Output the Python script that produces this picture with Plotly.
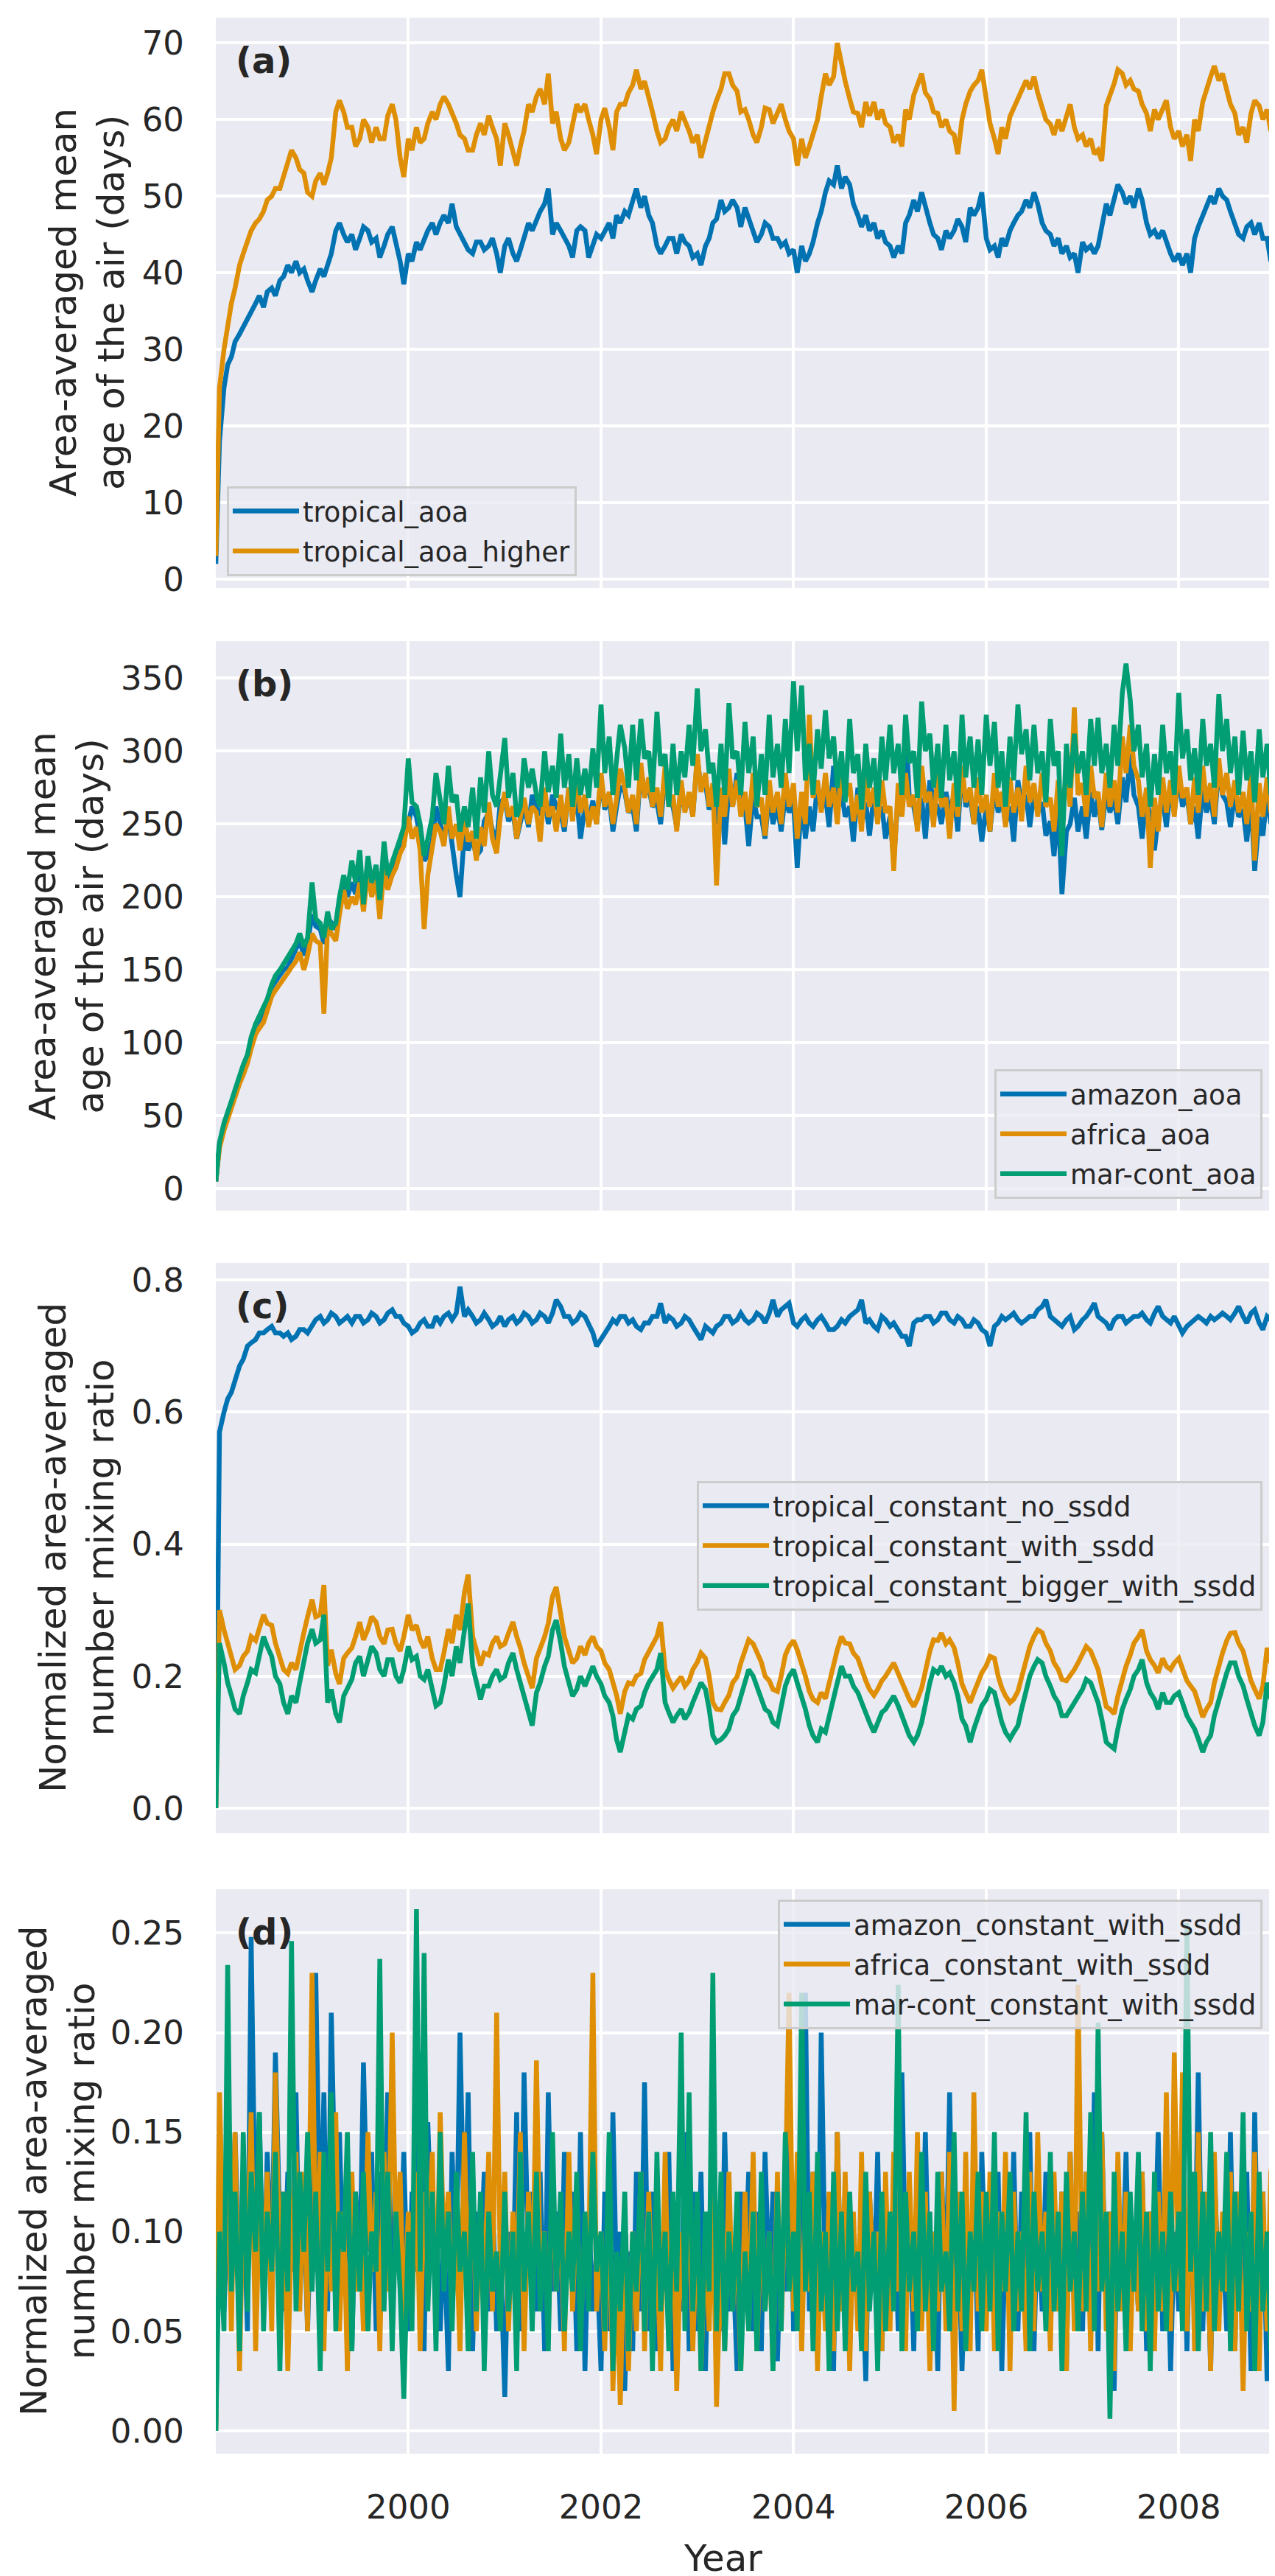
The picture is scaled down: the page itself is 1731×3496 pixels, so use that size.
import pandas as pd
import plotly.graph_objects as go
from plotly.subplots import make_subplots

# model output sampled on the 1st and 15th of each month, plus the last day of the run
dates = list(pd.date_range("1998-01-01", "2008-12-15", freq="SMS")) + [pd.Timestamp("2008-12-31")]

year_ticks = ["2000-01-01", "2002-01-01", "2004-01-01", "2006-01-01", "2008-01-01"]
year_labels = ["2000", "2002", "2004", "2006", "2008"]

# (a) area-averaged mean age of the air, days
tropical_aoa = [
    2, 18, 25, 28, 29, 31, 32, 33, 34, 35, 36, 37, 35.5, 37.5, 38, 37, 39, 39.5, 41, 40, 41.5, 40, 40.5, 39,
    37.5, 39, 40.5, 39.5, 41, 42.5, 45.5, 46.5, 45, 44, 45, 43, 44.5, 46, 45.5, 44, 44.5, 42, 43.5, 45, 46, 44, 41.5, 38.5,
    42.5, 41.5, 44, 43, 44.5, 45.5, 46.5, 45, 46.5, 47.5, 46.5, 49, 46, 45, 44, 43, 42.5, 44, 44, 43, 43.5, 44.5, 42.5, 40,
    43.5, 44.5, 42.5, 41.5, 43, 44.5, 46.5, 45.5, 47, 48, 49, 51, 45, 46.5, 45.5, 44.5, 43.5, 42, 45.5, 46, 45.5, 42, 43.5, 45,
    44.5, 45.5, 46.5, 44.5, 47.5, 46.5, 48, 47.5, 49.5, 51, 48.5, 50, 47.5, 46.5, 43.5, 42.5, 43.5, 44.5, 44.5, 42.5, 45, 44, 43.5, 42,
    42.5, 41, 43.5, 44.5, 46.5, 47, 49.5, 48, 48.5, 49.5, 48.5, 46, 48.5, 47, 45.5, 44, 45, 46.5, 46, 44.5, 44.5, 43.5, 44, 42.5,
    43, 40, 43.5, 41.5, 42.5, 44, 46.5, 48, 50.5, 52, 51.5, 54, 51, 52.5, 51.5, 49, 47.5, 46, 47.5, 45.5, 46.5, 44.5, 45.5, 44,
    43.5, 42, 43.5, 42.5, 46.5, 47.5, 49.5, 48, 50.5, 48.5, 46.5, 45, 44.5, 43, 45.5, 44.5, 45.5, 47, 46, 44, 48.5, 47.5, 48.5, 50.5,
    44.5, 43, 43.5, 42, 44.5, 43.5, 45.5, 46.5, 47.5, 48, 49.5, 48.5, 50.5, 49, 46.5, 45.5, 45, 43.5, 44.5, 42.5, 43.5, 42, 42.5, 40,
    44, 43, 43.5, 42.5, 43.5, 46, 49, 47.5, 49.5, 51.5, 50.5, 49, 50, 48.5, 51, 49.5, 46.5, 45, 45.5, 44.5, 45.5, 44, 42.5, 41.5,
    42.5, 41, 42.5, 40, 44.5, 46, 47.5, 48.5, 50, 49, 51, 50, 49.5, 48, 46.5, 45, 44.5, 46, 46.5, 45, 46.5, 44.5, 44.5, 41.5, 43.5,
]
tropical_aoa_higher = [
    3, 25, 30, 33, 36, 38, 41, 42.5, 44, 45.5, 46.5, 47, 48, 49.5, 50, 51, 51, 52.5, 54, 56, 55, 53.5, 53, 50.5,
    50, 52, 53, 51.5, 53, 55, 61, 62.5, 61, 59, 59, 56.5, 57.5, 60, 59, 57, 59, 57.5, 57.5, 60.5, 62, 60, 55, 52.5,
    57.5, 56, 59, 57, 57.5, 59.5, 61, 60, 62, 63, 62, 61, 59.5, 58, 57.5, 56, 56, 58, 59.5, 58, 60.5, 59, 57.5, 54,
    59.5, 58, 56, 54, 56.5, 58.5, 62, 61, 63, 64, 62, 66, 59.5, 61, 57.5, 56, 57, 59.5, 62, 61, 62, 60, 58, 55.5,
    60, 61.5, 59, 56, 61, 62, 62, 63.5, 64.5, 66.5, 64, 65, 63, 61, 58.5, 57, 57.5, 59, 60, 58.5, 61, 60, 58.5, 57,
    58, 55, 57.5, 59, 61, 62.5, 64, 66, 66, 64.5, 63.7, 61, 61.3, 60, 58, 57, 59, 61.5, 61.3, 59.5, 60.8, 62, 60, 58.5,
    57.5, 54, 57.5, 55, 56.5, 58, 60, 63, 66, 64.5, 65.6, 70, 67, 65, 62.7, 61, 60.8, 59, 62.3, 60.5, 62.3, 60, 61.3, 59.5,
    59, 57, 58, 56.5, 61.3, 60, 63.2, 64.5, 66, 63.5, 62.7, 61, 60.8, 59, 60, 58.5, 58, 55.5, 60, 62, 63.7, 64.5, 65.1, 66.5,
    62.3, 59.5, 57.5, 55.5, 59, 57.5, 60.4, 61.5, 62.7, 64, 65.1, 64, 65.6, 63.5, 61.8, 60, 59.4, 58, 60, 58.5, 60.4, 62, 59, 57.5,
    58, 56.5, 57.5, 55.5, 56, 54.6, 61.8, 63, 64.7, 66.5, 66, 64.5, 65.1, 64, 63.7, 62, 60.8, 58.5, 61.3, 60, 61.3, 62.5, 59, 57.5,
    58.5, 56.5, 58, 54.6, 60, 58.5, 62.3, 64, 65.6, 67, 65.1, 66, 63.7, 62, 60.8, 58, 59, 57, 60.8, 62.5, 61.8, 60, 61.3, 58.5, 59.5,
]

# (b) area-averaged mean age of the air, days
amazon_aoa = [
    5, 30, 44, 52, 60, 66, 76, 84, 90, 102, 112, 116, 120, 128, 138, 142, 146, 150, 152, 158, 165, 170, 160, 168,
    188, 180, 178, 168, 186, 182, 178, 195, 212, 200, 210, 202, 218, 198, 225, 205, 215, 190, 224, 210, 222, 228, 238, 242,
    250, 262, 255, 240, 225, 228, 238, 262, 250, 240, 255, 235, 215, 200, 245, 232, 240, 228, 232, 252, 258, 246, 238, 265,
    268, 252, 258, 240, 250, 262, 248, 270, 262, 256, 268, 250, 270, 262, 258, 245, 275, 255, 268, 240, 262, 252, 266, 250,
    282, 260, 268, 245, 262, 276, 272, 258, 262, 245, 288, 272, 275, 262, 265, 250, 282, 270, 262, 248, 272, 260, 268, 256,
    295, 275, 278, 260, 268, 250, 272, 236, 275, 262, 285, 268, 262, 235, 270, 255, 255, 240, 272, 250, 262, 245, 270, 258,
    265, 220, 268, 240, 262, 245, 278, 260, 270, 248, 290, 262, 272, 255, 262, 238, 275, 250, 265, 242, 270, 255, 262, 240,
    255, 225, 270, 260, 322, 268, 262, 248, 268, 240, 280, 265, 262, 250, 272, 258, 270, 245, 290, 262, 268, 250, 262, 238,
    262, 245, 275, 258, 268, 250, 262, 238, 280, 262, 270, 248, 272, 258, 265, 242, 252, 228, 262, 202, 245, 250, 268, 245,
    262, 240, 272, 255, 268, 246, 272, 258, 268, 250, 282, 265, 298, 270, 262, 240, 270, 250, 232, 255, 268, 248, 275, 258,
    282, 262, 270, 250, 262, 240, 275, 258, 268, 250, 290, 270, 265, 248, 272, 255, 260, 238, 268, 218, 255, 242, 270, 250, 285,
]
africa_aoa = [
    5, 28, 40, 48, 56, 64, 72, 78, 86, 96, 106, 110, 114, 122, 132, 136, 140, 143, 148, 152, 156, 162, 150, 160,
    175, 170, 168, 120, 180, 175, 170, 188, 205, 192, 200, 195, 210, 190, 218, 200, 212, 185, 220, 205, 215, 220, 230, 235,
    255, 240, 248, 232, 178, 215, 232, 250, 245, 235, 262, 240, 250, 232, 255, 238, 245, 225, 248, 235, 265, 240, 230, 255,
    272, 255, 262, 240, 255, 268, 250, 262, 258, 238, 275, 255, 262, 245, 270, 248, 275, 252, 285, 258, 270, 248, 262, 250,
    285, 262, 272, 250, 268, 288, 275, 258, 270, 250, 292, 268, 282, 262, 275, 255, 290, 262, 270, 245, 280, 258, 272, 255,
    298, 272, 285, 262, 278, 208, 275, 255, 288, 262, 280, 255, 272, 250, 285, 262, 268, 242, 280, 258, 272, 250, 285, 262,
    278, 240, 272, 250, 325, 268, 280, 258, 285, 262, 275, 250, 290, 268, 278, 252, 270, 245, 285, 262, 275, 250, 280, 258,
    262, 218, 278, 255, 285, 262, 270, 245, 290, 265, 272, 248, 285, 262, 268, 240, 278, 255, 290, 265, 275, 250, 282, 258,
    270, 245, 285, 262, 272, 248, 282, 258, 275, 252, 290, 265, 278, 255, 285, 262, 268, 245, 280, 255, 285, 262, 330, 270,
    278, 255, 290, 268, 272, 248, 285, 262, 280, 258, 310, 285, 318, 290, 280, 255, 275, 220, 268, 245, 282, 258, 280, 255,
    290, 268, 275, 250, 282, 258, 290, 265, 278, 255, 295, 270, 285, 262, 280, 258, 272, 250, 285, 225, 278, 255, 282, 258, 300,
]
mar_cont_aoa = [
    5, 32, 45, 54, 60, 68, 78, 85, 92, 104, 113, 118, 124, 130, 140, 146, 150, 154, 158, 162, 168, 175, 166, 172,
    210, 185, 182, 172, 190, 178, 182, 200, 215, 205, 225, 210, 232, 195, 228, 210, 222, 198, 238, 215, 225, 232, 240, 248,
    295, 265, 262, 250, 228, 240, 255, 285, 268, 250, 290, 265, 270, 245, 262, 248, 275, 240, 282, 258, 300, 270, 262, 285,
    309, 268, 285, 255, 262, 295, 275, 288, 270, 262, 300, 272, 290, 268, 312, 275, 298, 262, 295, 270, 288, 268, 302, 275,
    332, 285, 310, 270, 295, 318, 302, 275, 318, 280, 322, 295, 300, 272, 327, 290, 298, 262, 305, 270, 300, 282, 318, 290,
    343, 300, 315, 285, 292, 262, 305, 270, 333, 295, 300, 270, 320, 285, 310, 262, 298, 270, 325, 282, 305, 275, 322, 285,
    348, 300, 345, 280, 305, 270, 315, 288, 328, 295, 310, 275, 300, 265, 322, 285, 298, 260, 305, 275, 295, 262, 310, 280,
    318, 285, 305, 270, 325, 292, 300, 268, 334, 300, 312, 275, 305, 268, 318, 280, 300, 262, 325, 282, 310, 275, 308, 270,
    325, 290, 320, 275, 300, 262, 310, 280, 332, 298, 315, 280, 318, 285, 300, 265, 322, 290, 300, 228, 305, 275, 312, 285,
    300, 270, 322, 290, 323, 285, 305, 275, 318, 290, 340, 360, 335, 300, 318, 282, 305, 262, 298, 270, 318, 285, 300, 270,
    340, 295, 315, 280, 302, 270, 322, 290, 305, 275, 339, 300, 322, 285, 310, 270, 314, 280, 300, 265, 315, 282, 305, 270, 323,
]

# (c) normalized area-averaged number mixing ratio
tropical_constant_no_ssdd = [
    0.0, 0.57, 0.6, 0.62, 0.63, 0.65, 0.67, 0.68, 0.7, 0.705, 0.71, 0.72, 0.72, 0.725, 0.73, 0.72, 0.72, 0.715, 0.72, 0.71, 0.715, 0.725, 0.725, 0.72,
    0.73, 0.74, 0.745, 0.735, 0.74, 0.75, 0.745, 0.735, 0.74, 0.745, 0.735, 0.745, 0.745, 0.735, 0.74, 0.75, 0.745, 0.735, 0.74, 0.75, 0.755, 0.745, 0.745, 0.735,
    0.73, 0.72, 0.725, 0.735, 0.74, 0.73, 0.73, 0.745, 0.735, 0.745, 0.75, 0.74, 0.75, 0.79, 0.745, 0.755, 0.745, 0.735, 0.74, 0.75, 0.74, 0.73, 0.735, 0.745,
    0.73, 0.74, 0.745, 0.735, 0.74, 0.75, 0.745, 0.735, 0.74, 0.75, 0.745, 0.735, 0.75, 0.77, 0.76, 0.745, 0.745, 0.735, 0.74, 0.75, 0.745, 0.735, 0.72, 0.7,
    0.71, 0.72, 0.73, 0.74, 0.735, 0.745, 0.745, 0.735, 0.74, 0.73, 0.725, 0.735, 0.735, 0.745, 0.745, 0.765, 0.735, 0.745, 0.74, 0.73, 0.735, 0.745, 0.74, 0.73,
    0.72, 0.71, 0.73, 0.725, 0.72, 0.73, 0.735, 0.745, 0.745, 0.735, 0.74, 0.75, 0.74, 0.735, 0.74, 0.75, 0.745, 0.735, 0.75, 0.77, 0.745, 0.755, 0.76, 0.765,
    0.735, 0.73, 0.74, 0.745, 0.735, 0.73, 0.74, 0.745, 0.735, 0.725, 0.725, 0.73, 0.74, 0.735, 0.745, 0.75, 0.755, 0.77, 0.735, 0.74, 0.73, 0.725, 0.745, 0.74,
    0.73, 0.735, 0.725, 0.715, 0.715, 0.7, 0.735, 0.74, 0.74, 0.745, 0.745, 0.735, 0.74, 0.75, 0.75, 0.74, 0.735, 0.745, 0.74, 0.73, 0.73, 0.74, 0.735, 0.725,
    0.72, 0.7, 0.73, 0.735, 0.745, 0.74, 0.745, 0.75, 0.74, 0.735, 0.74, 0.745, 0.745, 0.755, 0.76, 0.77, 0.745, 0.74, 0.735, 0.73, 0.74, 0.745, 0.725, 0.73,
    0.74, 0.745, 0.755, 0.765, 0.745, 0.74, 0.735, 0.725, 0.74, 0.745, 0.745, 0.735, 0.74, 0.745, 0.745, 0.75, 0.74, 0.735, 0.75, 0.76, 0.745, 0.74, 0.735, 0.745,
    0.73, 0.72, 0.73, 0.735, 0.74, 0.745, 0.74, 0.735, 0.745, 0.74, 0.745, 0.75, 0.745, 0.74, 0.75, 0.76, 0.745, 0.735, 0.75, 0.755, 0.735, 0.725, 0.745, 0.74, 0.75,
]
tropical_constant_with_ssdd = [
    0.0, 0.3, 0.27, 0.25, 0.227, 0.21, 0.216, 0.23, 0.238, 0.26, 0.254, 0.27, 0.293, 0.28, 0.277, 0.25, 0.227, 0.21, 0.204, 0.22, 0.21, 0.24, 0.266, 0.29,
    0.316, 0.29, 0.293, 0.338, 0.216, 0.24, 0.204, 0.188, 0.227, 0.235, 0.243, 0.26, 0.282, 0.255, 0.271, 0.29, 0.282, 0.26, 0.249, 0.27, 0.271, 0.25, 0.238, 0.26,
    0.293, 0.27, 0.277, 0.255, 0.243, 0.26, 0.227, 0.21, 0.21, 0.235, 0.271, 0.25, 0.293, 0.27, 0.327, 0.354, 0.26, 0.24, 0.216, 0.235, 0.232, 0.25, 0.26, 0.245,
    0.249, 0.265, 0.282, 0.26, 0.243, 0.22, 0.199, 0.182, 0.227, 0.24, 0.26, 0.28, 0.321, 0.335, 0.293, 0.26, 0.238, 0.22, 0.227, 0.245, 0.232, 0.25, 0.26, 0.245,
    0.238, 0.22, 0.21, 0.19, 0.171, 0.143, 0.177, 0.19, 0.188, 0.2, 0.204, 0.225, 0.238, 0.25, 0.26, 0.282, 0.21, 0.195, 0.182, 0.19, 0.199, 0.185, 0.193, 0.21,
    0.221, 0.235, 0.227, 0.2, 0.16, 0.15, 0.149, 0.16, 0.171, 0.19, 0.199, 0.22, 0.238, 0.255, 0.249, 0.235, 0.221, 0.2, 0.193, 0.18, 0.177, 0.2, 0.232, 0.245,
    0.254, 0.24, 0.221, 0.2, 0.177, 0.165, 0.16, 0.175, 0.166, 0.19, 0.216, 0.24, 0.26, 0.25, 0.249, 0.235, 0.227, 0.21, 0.193, 0.18, 0.171, 0.18, 0.193, 0.2,
    0.21, 0.22, 0.204, 0.19, 0.177, 0.165, 0.154, 0.165, 0.182, 0.21, 0.238, 0.255, 0.254, 0.265, 0.249, 0.255, 0.243, 0.22, 0.188, 0.175, 0.16, 0.175, 0.193, 0.205,
    0.216, 0.23, 0.227, 0.2, 0.182, 0.17, 0.16, 0.165, 0.177, 0.2, 0.227, 0.245, 0.26, 0.27, 0.266, 0.25, 0.238, 0.22, 0.21, 0.195, 0.193, 0.2, 0.21, 0.22,
    0.232, 0.245, 0.238, 0.225, 0.21, 0.185, 0.154, 0.15, 0.143, 0.17, 0.199, 0.215, 0.232, 0.25, 0.26, 0.27, 0.238, 0.225, 0.216, 0.205, 0.227, 0.215, 0.21, 0.22,
    0.227, 0.21, 0.193, 0.185, 0.177, 0.16, 0.138, 0.15, 0.16, 0.19, 0.216, 0.235, 0.254, 0.265, 0.266, 0.25, 0.238, 0.215, 0.193, 0.18, 0.166, 0.185, 0.243, 0.22, 0.25,
]
tropical_constant_bigger_with_ssdd = [
    0.0, 0.25, 0.22, 0.19, 0.171, 0.15, 0.143, 0.17, 0.19, 0.21, 0.205, 0.23, 0.26, 0.245, 0.23, 0.2, 0.188, 0.16, 0.143, 0.17, 0.16, 0.19, 0.225, 0.25,
    0.271, 0.25, 0.255, 0.293, 0.16, 0.18, 0.143, 0.13, 0.17, 0.18, 0.195, 0.22, 0.23, 0.2, 0.225, 0.245, 0.235, 0.21, 0.2, 0.225, 0.225, 0.2, 0.19, 0.21,
    0.245, 0.225, 0.23, 0.2, 0.195, 0.21, 0.18, 0.155, 0.16, 0.185, 0.225, 0.2, 0.245, 0.22, 0.27, 0.31, 0.215, 0.19, 0.165, 0.185, 0.185, 0.2, 0.21, 0.195,
    0.2, 0.22, 0.235, 0.21, 0.19, 0.17, 0.15, 0.125, 0.175, 0.19, 0.215, 0.23, 0.27, 0.285, 0.25, 0.215, 0.19, 0.17, 0.18, 0.2, 0.185, 0.2, 0.215, 0.2,
    0.188, 0.17, 0.16, 0.14, 0.104, 0.085, 0.12, 0.14, 0.135, 0.15, 0.155, 0.175, 0.19, 0.2, 0.21, 0.235, 0.16, 0.145, 0.13, 0.14, 0.15, 0.135, 0.145, 0.16,
    0.175, 0.19, 0.18, 0.15, 0.11, 0.1, 0.104, 0.11, 0.12, 0.14, 0.15, 0.17, 0.195, 0.21, 0.2, 0.185, 0.17, 0.15, 0.145, 0.13, 0.125, 0.15, 0.185, 0.2,
    0.21, 0.19, 0.17, 0.15, 0.125, 0.11, 0.1, 0.12, 0.115, 0.14, 0.165, 0.19, 0.215, 0.2, 0.2, 0.185, 0.175, 0.16, 0.14, 0.13, 0.115, 0.13, 0.145, 0.15,
    0.16, 0.17, 0.155, 0.14, 0.125, 0.11, 0.1, 0.11, 0.13, 0.16, 0.19, 0.21, 0.205, 0.215, 0.2, 0.205, 0.19, 0.17, 0.135, 0.125, 0.1, 0.12, 0.14, 0.155,
    0.165, 0.18, 0.175, 0.15, 0.13, 0.115, 0.105, 0.115, 0.125, 0.15, 0.175, 0.2, 0.215, 0.225, 0.22, 0.2, 0.185, 0.17, 0.16, 0.14, 0.14, 0.15, 0.16, 0.17,
    0.18, 0.195, 0.19, 0.175, 0.16, 0.135, 0.1, 0.095, 0.09, 0.12, 0.15, 0.165, 0.18, 0.2, 0.21, 0.225, 0.19, 0.175, 0.165, 0.15, 0.175, 0.16, 0.16, 0.17,
    0.175, 0.16, 0.14, 0.13, 0.12, 0.105, 0.085, 0.1, 0.11, 0.14, 0.165, 0.185, 0.205, 0.22, 0.22, 0.2, 0.185, 0.165, 0.14, 0.125, 0.11, 0.13, 0.19, 0.165, 0.2,
]

# (d) normalized area-averaged number mixing ratio
amazon_constant_with_ssdd = [
    0.0, 0.135, 0.06, 0.11, 0.09, 0.15, 0.07, 0.12, 0.05, 0.248, 0.09, 0.16, 0.06, 0.14, 0.08, 0.19, 0.1, 0.06, 0.13, 0.08, 0.17, 0.07, 0.11, 0.05,
    0.13, 0.23, 0.09, 0.17, 0.06, 0.21, 0.1, 0.15, 0.07, 0.13, 0.04, 0.12, 0.08, 0.185, 0.09, 0.14, 0.05, 0.13, 0.09, 0.17, 0.06, 0.12, 0.08, 0.14,
    0.05, 0.12, 0.08, 0.19, 0.04, 0.155, 0.09, 0.11, 0.05, 0.1, 0.03, 0.14, 0.08, 0.2, 0.09, 0.17, 0.04, 0.11, 0.08, 0.13, 0.06, 0.12, 0.05, 0.09,
    0.017, 0.1, 0.07, 0.16, 0.05, 0.18, 0.08, 0.12, 0.06, 0.13, 0.04, 0.17, 0.07, 0.11, 0.05, 0.14, 0.09, 0.12, 0.04, 0.15, 0.03, 0.11, 0.06, 0.09,
    0.03, 0.12, 0.05, 0.16, 0.07, 0.1, 0.02, 0.09, 0.04, 0.13, 0.06, 0.175, 0.05, 0.12, 0.04, 0.1, 0.07, 0.14, 0.03, 0.11, 0.06, 0.15, 0.04, 0.12,
    0.05, 0.13, 0.03, 0.11, 0.07, 0.1, 0.05, 0.15, 0.06, 0.09, 0.03, 0.12, 0.08, 0.13, 0.05, 0.11, 0.04, 0.14, 0.07, 0.12, 0.035, 0.1, 0.07, 0.19,
    0.05, 0.12, 0.08, 0.22, 0.06, 0.13, 0.04, 0.2, 0.07, 0.11, 0.03, 0.15, 0.06, 0.12, 0.04, 0.1, 0.06, 0.09, 0.025, 0.12, 0.07, 0.14, 0.04, 0.1,
    0.06, 0.13, 0.05, 0.18, 0.08, 0.11, 0.04, 0.12, 0.07, 0.15, 0.05, 0.1, 0.03, 0.13, 0.07, 0.17, 0.05, 0.11, 0.03, 0.09, 0.06, 0.12, 0.04, 0.14,
    0.07, 0.11, 0.05, 0.13, 0.03, 0.1, 0.06, 0.14, 0.05, 0.12, 0.08, 0.15, 0.04, 0.11, 0.06, 0.13, 0.05, 0.1, 0.07, 0.12, 0.03, 0.14, 0.06, 0.11,
    0.05, 0.13, 0.07, 0.17, 0.04, 0.15, 0.06, 0.11, 0.02, 0.12, 0.07, 0.14, 0.05, 0.1, 0.06, 0.13, 0.04, 0.11, 0.08, 0.15, 0.05, 0.12, 0.03, 0.1,
    0.06, 0.14, 0.04, 0.12, 0.07, 0.18, 0.05, 0.11, 0.03, 0.13, 0.07, 0.1, 0.05, 0.15, 0.04, 0.12, 0.06, 0.13, 0.03, 0.16, 0.05, 0.12, 0.025, 0.1, 0.08,
]
africa_constant_with_ssdd = [
    0.0, 0.17, 0.08, 0.13, 0.05, 0.15, 0.03, 0.12, 0.09, 0.16, 0.04, 0.11, 0.07, 0.13, 0.05, 0.18, 0.08, 0.12, 0.03, 0.1, 0.14, 0.06, 0.13, 0.05,
    0.23, 0.08, 0.14, 0.04, 0.12, 0.07, 0.16, 0.05, 0.11, 0.03, 0.13, 0.07, 0.1, 0.05, 0.15, 0.08, 0.12, 0.04, 0.14, 0.07, 0.2, 0.09, 0.13, 0.05,
    0.11, 0.06, 0.13, 0.04, 0.12, 0.08, 0.14, 0.05, 0.16, 0.09, 0.12, 0.06, 0.1, 0.04, 0.15, 0.07, 0.13, 0.05, 0.11, 0.07, 0.14, 0.06, 0.21, 0.08,
    0.13, 0.05, 0.11, 0.07, 0.15, 0.04, 0.12, 0.06, 0.186, 0.08, 0.1, 0.05, 0.13, 0.07, 0.11, 0.04, 0.14, 0.06, 0.12, 0.05, 0.1, 0.08, 0.23, 0.06,
    0.1, 0.04, 0.12, 0.02, 0.08, 0.013, 0.11, 0.03, 0.1, 0.05, 0.13, 0.04, 0.12, 0.06, 0.09, 0.03, 0.14, 0.05, 0.11, 0.02, 0.1, 0.06, 0.13, 0.04,
    0.11, 0.03, 0.1, 0.05, 0.12, 0.012, 0.09, 0.04, 0.13, 0.06, 0.1, 0.03, 0.12, 0.05, 0.14, 0.04, 0.11, 0.06, 0.1, 0.03, 0.13, 0.05, 0.12, 0.22,
    0.06, 0.14, 0.04, 0.11, 0.07, 0.13, 0.03, 0.1, 0.05, 0.12, 0.04, 0.15, 0.06, 0.13, 0.03, 0.11, 0.05, 0.14, 0.04, 0.12, 0.07, 0.1, 0.04, 0.13,
    0.05, 0.14, 0.07, 0.11, 0.04, 0.13, 0.06, 0.15, 0.05, 0.12, 0.03, 0.1, 0.06, 0.13, 0.05, 0.14, 0.01, 0.12, 0.05, 0.14, 0.04, 0.17, 0.06, 0.12,
    0.05, 0.13, 0.04, 0.11, 0.07, 0.14, 0.03, 0.12, 0.06, 0.1, 0.04, 0.13, 0.05, 0.15, 0.07, 0.11, 0.04, 0.13, 0.06, 0.12, 0.03, 0.14, 0.05, 0.224,
    0.06, 0.13, 0.04, 0.12, 0.07, 0.15, 0.05, 0.11, 0.03, 0.14, 0.06, 0.12, 0.04, 0.1, 0.06, 0.13, 0.05, 0.11, 0.04, 0.12, 0.06, 0.17, 0.05, 0.19,
    0.07, 0.18, 0.05, 0.13, 0.04, 0.15, 0.06, 0.12, 0.03, 0.14, 0.05, 0.11, 0.07, 0.13, 0.04, 0.12, 0.02, 0.1, 0.06, 0.14, 0.03, 0.12, 0.05, 0.13, 0.14,
]
mar_cont_constant_with_ssdd = [
    0.0, 0.1, 0.05, 0.234, 0.07, 0.12, 0.04, 0.15, 0.06, 0.13, 0.09, 0.16, 0.05, 0.11, 0.08, 0.14, 0.03, 0.12, 0.07, 0.246, 0.06, 0.13, 0.09, 0.15,
    0.07, 0.12, 0.03, 0.14, 0.08, 0.17, 0.05, 0.11, 0.09, 0.15, 0.04, 0.12, 0.07, 0.13, 0.05, 0.1, 0.08, 0.237, 0.06, 0.13, 0.04, 0.11, 0.07, 0.016,
    0.1, 0.05, 0.262, 0.08, 0.24, 0.06, 0.12, 0.04, 0.15, 0.07, 0.11, 0.05, 0.13, 0.08, 0.1, 0.04, 0.14, 0.06, 0.12, 0.03, 0.11, 0.07, 0.09, 0.05,
    0.12, 0.06, 0.1, 0.03, 0.14, 0.07, 0.11, 0.05, 0.13, 0.06, 0.1, 0.04, 0.15, 0.07, 0.12, 0.05, 0.1, 0.07, 0.13, 0.04, 0.11, 0.06, 0.14, 0.08,
    0.1, 0.05, 0.15, 0.03, 0.09, 0.06, 0.12, 0.04, 0.1, 0.07, 0.13, 0.05, 0.11, 0.03, 0.14, 0.06, 0.1, 0.04, 0.12, 0.07, 0.2, 0.05, 0.17, 0.06,
    0.12, 0.03, 0.11, 0.07, 0.23, 0.05, 0.13, 0.04, 0.1, 0.06, 0.12, 0.03, 0.09, 0.05, 0.11, 0.04, 0.13, 0.06, 0.1, 0.03, 0.12, 0.05, 0.15, 0.07,
    0.1, 0.05, 0.22, 0.07, 0.12, 0.04, 0.14, 0.06, 0.1, 0.03, 0.13, 0.05, 0.11, 0.04, 0.12, 0.07, 0.09, 0.04, 0.13, 0.06, 0.1, 0.03, 0.12, 0.05,
    0.11, 0.06, 0.224, 0.04, 0.12, 0.07, 0.1, 0.05, 0.14, 0.06, 0.11, 0.04, 0.13, 0.07, 0.09, 0.05, 0.15, 0.06, 0.12, 0.04, 0.1, 0.07, 0.13, 0.05,
    0.12, 0.06, 0.15, 0.04, 0.11, 0.07, 0.13, 0.05, 0.1, 0.06, 0.16, 0.04, 0.12, 0.07, 0.1, 0.05, 0.14, 0.06, 0.11, 0.03, 0.13, 0.07, 0.1, 0.05,
    0.12, 0.06, 0.16, 0.05, 0.205, 0.07, 0.11, 0.006, 0.13, 0.06, 0.1, 0.04, 0.12, 0.07, 0.14, 0.05, 0.11, 0.03, 0.13, 0.06, 0.1, 0.05, 0.12, 0.07,
    0.11, 0.05, 0.255, 0.08, 0.13, 0.04, 0.12, 0.06, 0.15, 0.05, 0.1, 0.07, 0.14, 0.04, 0.12, 0.06, 0.16, 0.05, 0.11, 0.03, 0.13, 0.06, 0.1, 0.04, 0.09,
]

BLUE, ORANGE, GREEN = "#0173B2", "#DE8F05", "#029E73"
INK = "#262626"
FONT = "DejaVu Sans"

panels = [
    dict(series=[("tropical_aoa", tropical_aoa, BLUE), ("tropical_aoa_higher", tropical_aoa_higher, ORANGE)],
         legend="legend", label="(a)", title="Area-averaged mean<br>age of the air (days)",
         domain=[0.7659, 1.0], yrange=[-1.15, 73.3], dtick=10, fmt="d", title_x=-0.1210),
    dict(series=[("amazon_aoa", amazon_aoa, BLUE), ("africa_aoa", africa_aoa, ORANGE), ("mar-cont_aoa", mar_cont_aoa, GREEN)],
         legend="legend2", label="(b)", title="Area-averaged mean<br>age of the air (days)",
         domain=[0.5103, 0.7441], yrange=[-15, 375.5], dtick=50, fmt="d", title_x=-0.1405),
    dict(series=[("tropical_constant_no_ssdd", tropical_constant_no_ssdd, BLUE),
                 ("tropical_constant_with_ssdd", tropical_constant_with_ssdd, ORANGE),
                 ("tropical_constant_bigger_with_ssdd", tropical_constant_bigger_with_ssdd, GREEN)],
         legend="legend3", label="(c)", title="Normalized area-averaged<br>number mixing ratio",
         domain=[0.2547, 0.4888], yrange=[-0.038, 0.826], dtick=0.2, fmt=".1f", title_x=-0.1307),
    dict(series=[("amazon_constant_with_ssdd", amazon_constant_with_ssdd, BLUE),
                 ("africa_constant_with_ssdd", africa_constant_with_ssdd, ORANGE),
                 ("mar-cont_constant_with_ssdd", mar_cont_constant_with_ssdd, GREEN)],
         legend="legend4", label="(d)", title="Normalized area-averaged<br>number mixing ratio",
         domain=[0.0, 0.2317], yrange=[-0.0115, 0.272], dtick=0.05, fmt=".2f", title_x=-0.1488),
]

fig = make_subplots(rows=4, cols=1, shared_xaxes=True, vertical_spacing=0.0218)

for row, p in enumerate(panels, start=1):
    for name, vals, color in p["series"]:
        fig.add_trace(go.Scatter(x=dates, y=vals, mode="lines", name=name, legendgroup=name,
                                 line=dict(color=color, width=6.5), legend=p["legend"]),
                      row=row, col=1)
    fig.update_yaxes(domain=p["domain"], range=p["yrange"], dtick=p["dtick"], tick0=0,
                     tickformat=p["fmt"], row=row, col=1)
    mid = (p["domain"][0] + p["domain"][1]) / 2
    fig.add_annotation(text=p["title"], xref="paper", yref="paper", x=p["title_x"], y=mid,
                       xanchor="center", yanchor="middle", textangle=-90, showarrow=False,
                       font=dict(family=FONT, size=50, color=INK))
    fig.add_annotation(text="<b>" + p["label"] + "</b>", xref="paper", yref="paper",
                       x=0.0174, y=p["domain"][1] - 0.0175, xanchor="left", yanchor="middle",
                       showarrow=False, font=dict(family=FONT, size=48, color=INK))

fig.add_annotation(text="Year", xref="paper", yref="paper", x=0.479, y=-0.043,
                   xanchor="center", yanchor="middle", showarrow=False,
                   font=dict(family=FONT, size=50, color=INK))

fig.update_xaxes(range=["1998-01-01", "2008-12-31"], tickvals=year_ticks, ticktext=year_labels,
                 showgrid=True, gridcolor="white", gridwidth=3.5, showline=False, zeroline=False,
                 ticks="", ticklabelstandoff=42, tickfont=dict(family=FONT, size=45, color=INK))
fig.update_yaxes(showgrid=True, gridcolor="white", gridwidth=3.5, showline=False,
                 zeroline=True, zerolinecolor="white", zerolinewidth=3.5,
                 ticks="", ticklabelstandoff=42, tickfont=dict(family=FONT, size=45, color=INK))

legend_style = dict(bgcolor="rgba(234,234,242,0.8)", bordercolor="#CCCCCC", borderwidth=3,
                    font=dict(family=FONT, size=37, color=INK), itemwidth=90, tracegroupgap=3)
fig.update_layout(
    width=1731, height=3496, autosize=False,
    margin=dict(l=285, r=8, t=16, b=174),
    paper_bgcolor="white", plot_bgcolor="#EAEAF2",
    font=dict(family=FONT, color=INK),
    showlegend=True,
    legend=dict(x=0.0104, y=0.7707, xanchor="left", yanchor="bottom", **legend_style),
    legend2=dict(x=0.9882, y=0.5151, xanchor="right", yanchor="bottom", **legend_style),
    legend3=dict(x=0.9882, y=0.3993, xanchor="right", yanchor="top", **legend_style),
    legend4=dict(x=0.9882, y=0.2275, xanchor="right", yanchor="top", **legend_style),
)

fig.write_html("out.html")
